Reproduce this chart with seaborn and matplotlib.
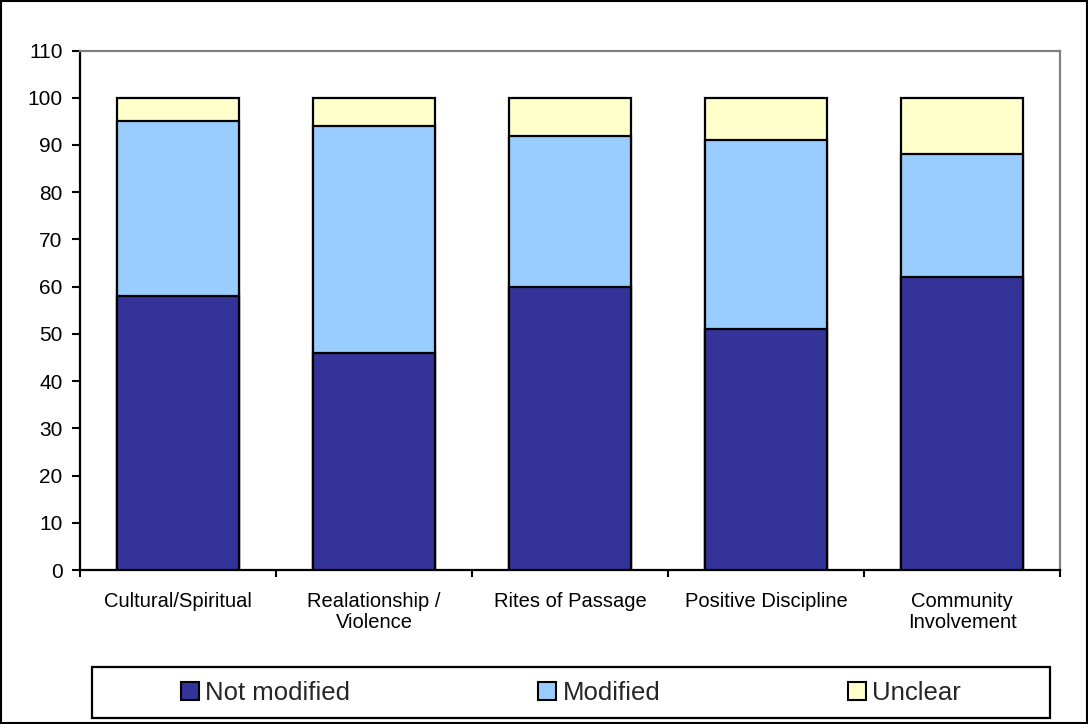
import numpy as np
import matplotlib
matplotlib.use("Agg")
import matplotlib.pyplot as plt
from matplotlib.patches import Patch, Rectangle
from matplotlib.ticker import FixedLocator
import seaborn as sns

# Programme components and share of each response type (percent)
categories = ["Cultural/Spiritual", "Realationship /\nViolence", "Rites of Passage",
              "Positive Discipline", "Community\nInvolvement"]
not_modified = [58, 46, 60, 51, 62]
modified = [37, 48, 32, 40, 26]
unclear = [5, 6, 8, 9, 12]
series_names = ["Not modified", "Modified", "Unclear"]
yticks = list(range(0, 111, 10))

colors = {"Not modified": "#333399", "Modified": "#99CCFF", "Unclear": "#FFFFCC"}

sns.set_theme(style="white")
plt.rcParams["font.family"] = ["Liberation Sans", "DejaVu Sans"]

fig = plt.figure(figsize=(10.88, 7.24), dpi=100)
W, H = 1088, 724
ax = fig.add_axes([80 / W, 1 - 570 / H, 980 / W, (570 - 50.5) / H])

# Stacked bars: draw cumulative totals from the top segment down
nm = np.array(not_modified)
md = np.array(modified)
uc = np.array(unclear)
layers = [("Unclear", nm + md + uc), ("Modified", nm + md), ("Not modified", nm)]
for name, heights in layers:
    sns.barplot(x=categories, y=heights, color=colors[name], saturation=1,
                width=0.62, edgecolor="black", linewidth=1.6, ax=ax, zorder=3)

ax.set_xlim(-0.5, len(categories) - 0.5)
ax.set_ylim(0, 110)
ax.set_yticks(yticks)
ax.set_yticklabels([str(v) for v in yticks], fontsize=15, color="black")
ax.set_xticks(range(len(categories)))
ax.set_xticklabels(categories, fontsize=14.5, color="black", linespacing=1.15)
ax.xaxis.set_minor_locator(FixedLocator(np.arange(-0.5, len(categories), 1.0)))
ax.tick_params(axis="x", which="major", length=0, pad=16)
ax.tick_params(axis="x", which="minor", direction="out", length=5, width=1.5,
               color="black", bottom=True)
ax.tick_params(axis="y", direction="out", length=5.5, width=1.5, color="black",
               left=True, pad=7)
ax.set_xlabel("")
ax.set_ylabel("")
ax.grid(False)

for side in ["left", "bottom"]:
    ax.spines[side].set_color("black")
    ax.spines[side].set_linewidth(1.6)
for side in ["top", "right"]:
    ax.spines[side].set_color("#808080")
    ax.spines[side].set_linewidth(1.6)
    ax.spines[side].set_visible(True)

# Legend with its own framed box below the plot
fig.patches.append(Rectangle((92 / W, 1 - 718 / H), 958 / W, 51 / H,
                             transform=fig.transFigure, fill=False,
                             edgecolor="black", linewidth=1.6, zorder=5))
handles = [Patch(facecolor=colors[n], edgecolor="black", linewidth=1.5) for n in series_names]
fig.legend(handles, series_names, loc="center",
           bbox_to_anchor=(571 / W, 1 - 692.5 / H), ncol=3, frameon=False,
           fontsize=18.5, handlelength=0.7, handleheight=0.7, handletextpad=0.25,
           columnspacing=7.3)

# Outer chart border
fig.patches.append(Rectangle((1 / W, 1 / H), 1 - 2 / W, 1 - 2 / H,
                             transform=fig.transFigure, fill=False,
                             edgecolor="black", linewidth=1.5, zorder=5))

fig.savefig("out.png", dpi=100)
